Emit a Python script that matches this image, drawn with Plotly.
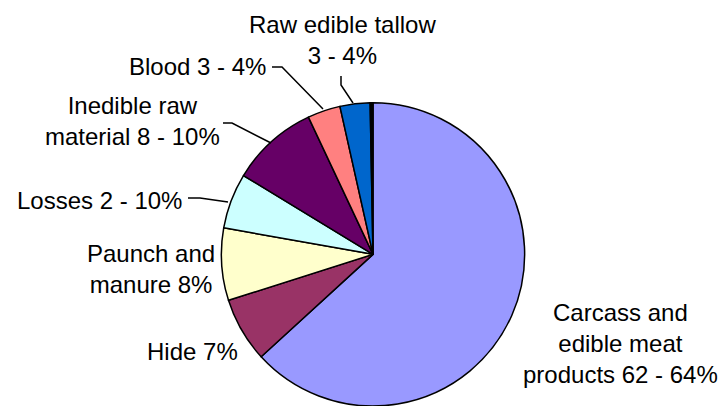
import plotly.graph_objects as go

# Slaughter yield breakdown, clockwise from 12 o'clock
categories = [
    "Carcass and edible meat products",
    "Hide",
    "Paunch and manure",
    "Losses",
    "Inedible raw material",
    "Blood",
    "Raw edible tallow",
    "Other",
]
shares = [63.2, 6.9, 7.7, 5.9, 9.3, 3.5, 3.2, 0.3]
colors = ["#9999FF", "#993366", "#FFFFCC", "#CCFFFF", "#660066",
          "#FF8080", "#0066CC", "#000000"]

label_texts = [
    "Carcass and<br>edible meat<br>products 62 - 64%",
    "Hide 7%",
    "Paunch and<br>manure 8%",
    "Losses 2 - 10%",
    "Inedible raw<br>material 8 - 10%",
    "Blood 3 - 4%",
    "Raw edible tallow<br>3 - 4%",
]

W, H = 721, 406

fig = go.Figure(go.Pie(
    labels=categories,
    values=shares,
    sort=False,
    direction="clockwise",
    rotation=0,
    marker=dict(colors=colors, line=dict(color="#000000", width=1.5)),
    textinfo="none",
    hoverinfo="label+percent",
    showlegend=False,
    domain=dict(x=[(373 - 152) / W, (373 + 152) / W], y=[0, 0.747]),
))

# label anchor points (pixel centres) and leader-line paths
label_pos = [(620, 343), (192, 351), (151, 269), (99, 200),
             (132, 121), (197, 66), (342, 40)]
leaders = [
    None, None, None,
    [(188, 198), (200, 198), (228, 202)],
    [(223, 123), (232, 123), (271, 143)],
    [(272, 67), (282, 67), (323, 109)],
    [(341, 76), (341, 85), (353, 103)],
]

def px(x, y):
    return x / W, 1 - y / H

annotations = []
for text, (x, y) in zip(label_texts, label_pos):
    ax, ay = px(x, y)
    annotations.append(dict(
        text=text, x=ax, y=ay, xref="paper", yref="paper",
        xanchor="center", yanchor="middle", align="center",
        showarrow=False,
        font=dict(family="Liberation Sans, Arial, sans-serif", size=24, color="#000000"),
    ))

shapes = []
for pts in leaders:
    if not pts:
        continue
    path = "M " + " L ".join(f"{px(x, y)[0]:.5f},{px(x, y)[1]:.5f}" for x, y in pts)
    shapes.append(dict(type="path", path=path, xref="paper", yref="paper",
                       line=dict(color="#000000", width=1.5)))

fig.update_layout(
    width=W, height=H,
    margin=dict(l=0, r=0, t=0, b=0),
    paper_bgcolor="#FFFFFF",
    plot_bgcolor="#FFFFFF",
    annotations=annotations,
    shapes=shapes,
)

fig.write_html("out.html")
